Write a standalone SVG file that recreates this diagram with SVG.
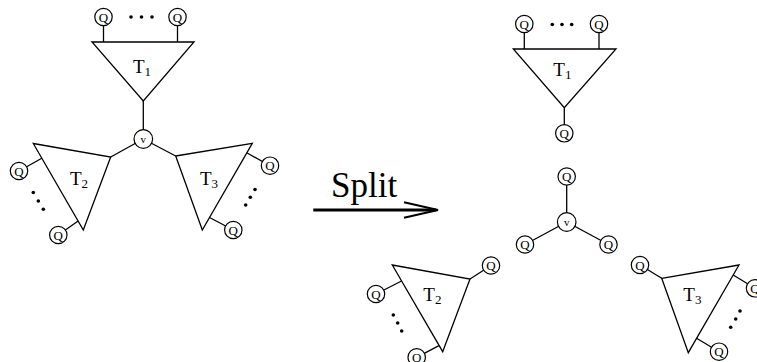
<svg xmlns="http://www.w3.org/2000/svg" width="757" height="362" viewBox="0 0 757 362">
<style>
.ln{stroke:#000;stroke-width:1.3;fill:none}
.tri{stroke:#000;stroke-width:1.3;fill:#fff;stroke-linejoin:miter}
.q{stroke:#000;stroke-width:1.2;fill:#fff}
.qt{font-family:"Liberation Serif",serif;font-size:13px;text-anchor:middle}
.vt{font-family:"Liberation Serif",serif;font-size:11px;text-anchor:middle}
.tl{font-family:"Liberation Serif",serif;font-size:19px}
.sub{font-size:13px}
.dot{fill:#000}
</style>
<rect width="757" height="362" fill="#fff"/>
<g id="connectors">
  <!-- left -->
  <line class="ln" x1="103.5" y1="17" x2="103.5" y2="42"/>
  <line class="ln" x1="177.5" y1="17" x2="177.5" y2="42"/>
  <line class="ln" x1="143.3" y1="101" x2="143.3" y2="139"/>
  <line class="ln" x1="143.3" y1="139" x2="110.7" y2="157"/>
  <line class="ln" x1="143.3" y1="139" x2="175.7" y2="156"/>
  <line class="ln" x1="19" y1="171" x2="41.8" y2="158.3"/>
  <line class="ln" x1="58.3" y1="235" x2="78.1" y2="221"/>
  <line class="ln" x1="270" y1="165.7" x2="246.8" y2="152.8"/>
  <line class="ln" x1="233.3" y1="230" x2="209.5" y2="217.5"/>
  <!-- right -->
  <line class="ln" x1="524.3" y1="24" x2="524.3" y2="49"/>
  <line class="ln" x1="599" y1="24" x2="599" y2="49"/>
  <line class="ln" x1="564.3" y1="107.7" x2="564.3" y2="133.3"/>
  <line class="ln" x1="566.7" y1="222" x2="566.7" y2="176.5"/>
  <line class="ln" x1="566.7" y1="222" x2="525" y2="244.5"/>
  <line class="ln" x1="566.7" y1="222" x2="608.5" y2="244.5"/>
  <line class="ln" x1="491" y1="265.5" x2="470" y2="279"/>
  <line class="ln" x1="376" y1="294" x2="401.6" y2="281"/>
  <line class="ln" x1="416.7" y1="357.3" x2="438.9" y2="345.7"/>
  <line class="ln" x1="640" y1="265" x2="661.7" y2="278.3"/>
  <line class="ln" x1="755" y1="288.3" x2="733.2" y2="275"/>
  <line class="ln" x1="719" y1="351.7" x2="696.6" y2="338.3"/>
  <!-- split arrow -->
  <line x1="313.3" y1="210" x2="436" y2="210" stroke="#000" stroke-width="3"/>
  <polyline points="404,202.3 438,210 404,217.7" fill="none" stroke="#000" stroke-width="2"/>
</g>
<text x="331" y="197" style="font-family:'Liberation Serif',serif;font-size:35px">Split</text>

<!-- left diagram -->
<g id="L_T1">
  <polygon class="tri" points="92,42 194,42 143.3,101"/>
  <text class="tl" x="133" y="73">T<tspan class="sub" dy="3">1</tspan></text>
</g>
<g id="L_T2">
  <polygon class="tri" points="33.3,143.5 110.7,157 83.3,230"/>
  <text class="tl" x="70" y="185">T<tspan class="sub" dy="3">2</tspan></text>
</g>
<g id="L_T3">
  <polygon class="tri" points="175.7,156 252.3,143.3 202.3,230"/>
  <text class="tl" x="200" y="185">T<tspan class="sub" dy="3">3</tspan></text>
</g>
<g id="L_v"><circle class="q" cx="143.3" cy="139" r="9.3"/><text class="vt" x="143.3" y="142.5">v</text></g>
<g id="L_Q1a"><circle class="q" cx="103.5" cy="17" r="8.7"/><text class="qt" x="103.5" y="21.5">Q</text></g>
<g id="L_Q1b"><circle class="q" cx="177.5" cy="17" r="8.7"/><text class="qt" x="177.5" y="21.5">Q</text></g>
<g id="L_Q2a"><circle class="q" cx="19" cy="171" r="8.7"/><text class="qt" x="19" y="175.5">Q</text></g>
<g id="L_Q2b"><circle class="q" cx="58.3" cy="235" r="8.7"/><text class="qt" x="58.3" y="239.5">Q</text></g>
<g id="L_Q3a"><circle class="q" cx="270" cy="165.7" r="8.7"/><text class="qt" x="270" y="170.2">Q</text></g>
<g id="L_Q3b"><circle class="q" cx="233.3" cy="230" r="8.7"/><text class="qt" x="233.3" y="234.5">Q</text></g>
<g id="L_dots">
  <circle class="dot" cx="131" cy="17" r="1.8"/><circle class="dot" cx="141.5" cy="17" r="1.8"/><circle class="dot" cx="152" cy="17" r="1.8"/>
  <circle class="dot" cx="33.3" cy="192.5" r="1.8"/><circle class="dot" cx="38.3" cy="201" r="1.8"/><circle class="dot" cx="43.3" cy="209.3" r="1.8"/>
  <circle class="dot" cx="255" cy="189.5" r="1.8"/><circle class="dot" cx="250.3" cy="197.3" r="1.8"/><circle class="dot" cx="245.7" cy="205" r="1.8"/>
</g>

<!-- right diagram -->
<g id="R_T1">
  <polygon class="tri" points="513.3,49 616,49 564.3,107.7"/>
  <text class="tl" x="553.3" y="75.7">T<tspan class="sub" dy="3">1</tspan></text>
</g>
<g id="R_T2">
  <polygon class="tri" points="392.3,265 470,279 442.7,351.7"/>
  <text class="tl" x="423.3" y="300.7">T<tspan class="sub" dy="3">2</tspan></text>
</g>
<g id="R_T3">
  <polygon class="tri" points="661.7,278.3 739,265 688.3,352.7"/>
  <text class="tl" x="683.3" y="300.5">T<tspan class="sub" dy="3">3</tspan></text>
</g>
<g id="R_v"><circle class="q" cx="566.7" cy="222" r="9.3"/><text class="vt" x="566.7" y="225.5">v</text></g>
<g id="R_Qv1"><circle class="q" cx="566.7" cy="176.5" r="8.7"/><text class="qt" x="566.7" y="181">Q</text></g>
<g id="R_Qv2"><circle class="q" cx="525" cy="244.5" r="8.7"/><text class="qt" x="525" y="249">Q</text></g>
<g id="R_Qv3"><circle class="q" cx="608.5" cy="244.5" r="8.7"/><text class="qt" x="608.5" y="249">Q</text></g>
<g id="R_Q1a"><circle class="q" cx="524.3" cy="24" r="8.7"/><text class="qt" x="524.3" y="28.5">Q</text></g>
<g id="R_Q1b"><circle class="q" cx="599" cy="24" r="8.7"/><text class="qt" x="599" y="28.5">Q</text></g>
<g id="R_Q1c"><circle class="q" cx="564.3" cy="133.3" r="8.7"/><text class="qt" x="564.3" y="137.8">Q</text></g>
<g id="R_Q2a"><circle class="q" cx="491" cy="265.5" r="8.7"/><text class="qt" x="491" y="270">Q</text></g>
<g id="R_Q2b"><circle class="q" cx="376" cy="294" r="8.7"/><text class="qt" x="376" y="298.5">Q</text></g>
<g id="R_Q2c"><circle class="q" cx="416.7" cy="357.3" r="8.7"/><text class="qt" x="416.7" y="361.8">Q</text></g>
<g id="R_Q3a"><circle class="q" cx="640" cy="265" r="8.7"/><text class="qt" x="640" y="269.5">Q</text></g>
<g id="R_Q3b"><circle class="q" cx="755" cy="288.3" r="8.7"/><text class="qt" x="755" y="292.8">Q</text></g>
<g id="R_Q3c"><circle class="q" cx="719" cy="351.7" r="8.7"/><text class="qt" x="719" y="356.2">Q</text></g>
<g id="R_dots">
  <circle class="dot" cx="552.3" cy="24.5" r="1.8"/><circle class="dot" cx="562" cy="24.5" r="1.8"/><circle class="dot" cx="571.7" cy="24.5" r="1.8"/>
  <circle class="dot" cx="393.3" cy="315" r="1.8"/><circle class="dot" cx="397.7" cy="323" r="1.8"/><circle class="dot" cx="401.7" cy="331" r="1.8"/>
  <circle class="dot" cx="740" cy="311" r="1.8"/><circle class="dot" cx="735.7" cy="319" r="1.8"/><circle class="dot" cx="730.7" cy="327.3" r="1.8"/>
</g>
</svg>
